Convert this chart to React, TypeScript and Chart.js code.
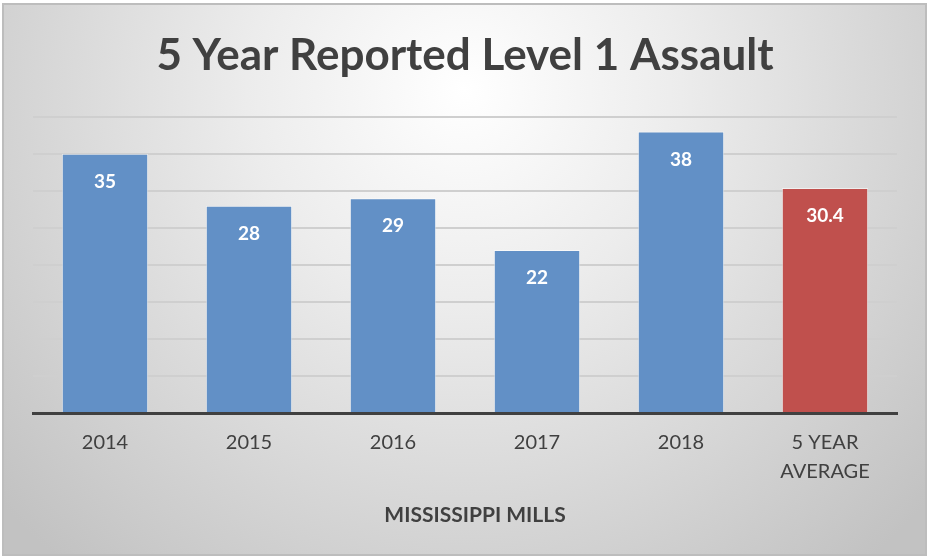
import React, { useEffect, useRef } from "react";
import { Chart, registerables } from "chart.js";

Chart.register(...registerables);

const TITLE = "5 Year Reported Level 1 Assault";
const X_TITLE = "MISSISSIPPI MILLS";
const categories: (string | string[])[] = ["2014", "2015", "2016", "2017", "2018", ["5 YEAR", "AVERAGE"]];
const values: number[] = [35, 28, 29, 22, 38, 30.4];
const valueLabels: string[] = ["35", "28", "29", "22", "38", "30.4"];

const BLUE = "#6290c6";
const RED = "#c0504d";
const FONT = "Lato, 'Open Sans', sans-serif";

const framePlugin = {
  id: "frame",
  beforeDraw(chart: any) {
    const { ctx, width, height } = chart;
    ctx.save();
    ctx.fillStyle = "#ffffff";
    ctx.fillRect(0, 0, width, height);
    const g = ctx.createRadialGradient(464, 90, 0, 464, 90, 620);
    g.addColorStop(0, "#ffffff");
    g.addColorStop(0.35, "#ececec");
    g.addColorStop(1, "#c2c2c2");
    ctx.fillStyle = g;
    ctx.fillRect(3, 4, 923, 551);
    ctx.strokeStyle = "#bdbdbd";
    ctx.lineWidth = 2;
    ctx.strokeRect(3, 4, 923, 551);
    ctx.restore();
  },
};

const labelPlugin = {
  id: "barLabels",
  afterDatasetsDraw(chart: any) {
    const { ctx } = chart;
    const meta = chart.getDatasetMeta(0);
    ctx.save();
    ctx.fillStyle = "#ffffff";
    ctx.font = `bold 19px ${FONT}`;
    ctx.textAlign = "center";
    ctx.textBaseline = "middle";
    meta.data.forEach((bar: any, i: number) => {
      ctx.fillText(valueLabels[i], bar.x, bar.y + 28);
    });
    ctx.restore();
  },
  afterDraw(chart: any) {
    const { ctx, chartArea } = chart;
    ctx.save();
    ctx.fillStyle = "#404040";
    ctx.font = `bold 21px ${FONT}`;
    ctx.textAlign = "center";
    ctx.textBaseline = "middle";
    ctx.fillText(X_TITLE, (chartArea.left + chartArea.right) / 2 + 10, chartArea.bottom + 102);
    ctx.restore();
  },
};

export default function App() {
  const ref = useRef<HTMLCanvasElement>(null);
  useEffect(() => {
    if (!ref.current) return;
    const colors = values.map((_, i) => (i === values.length - 1 ? RED : BLUE));
    const chart = new Chart(ref.current, {
      type: "bar",
      data: {
        labels: categories,
        datasets: [
          {
            data: values,
            backgroundColor: colors,
            borderColor: "rgba(255,255,255,0.55)",
            borderWidth: 1,
            categoryPercentage: 1,
            barPercentage: 0.6,
          },
        ],
      },
      options: {
        animation: false,
        responsive: false,
        maintainAspectRatio: false,
        layout: { padding: { left: 33, right: 31, top: 0, bottom: 56 } },
        plugins: {
          legend: { display: false },
          tooltip: { enabled: false },
          title: {
            display: true,
            text: TITLE,
            color: "#404040",
            font: { family: FONT, size: 44, weight: "bold", lineHeight: 1.2 },
            padding: { top: 29, bottom: 35 },
          },
        },
        scales: {
          y: {
            min: 0,
            max: 40,
            ticks: { display: false, stepSize: 5 },
            border: { display: false },
            grid: { color: "#cfcfcf", lineWidth: 2, drawTicks: false },
          },
          x: {
            ticks: {
              color: "#404040",
              font: { family: FONT, size: 20, lineHeight: 1.45 },
              padding: 15,
              maxRotation: 0,
              autoSkip: false,
            },
            grid: { display: false, drawTicks: false },
            border: { display: true, color: "#404040", width: 3 },
            title: { display: false },
          },
        },
      },
      plugins: [framePlugin, labelPlugin],
    });
    return () => chart.destroy();
  }, []);
  return (
    <div style={{ position: "absolute", left: 0, top: 0, width: 928, height: 557 }}>
      <canvas ref={ref} width={928} height={557} style={{ display: "block" }} />
    </div>
  );
}
